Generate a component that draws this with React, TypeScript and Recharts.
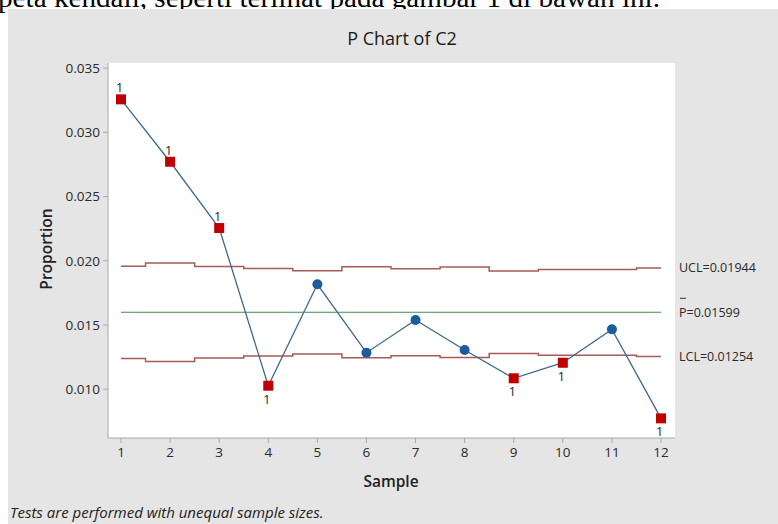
import React from 'react';
import { LineChart, Line, XAxis, YAxis, CartesianGrid, LabelList } from 'recharts';

const samples = [1, 2, 3, 4, 5, 6, 7, 8, 9, 10, 11, 12];
const proportions = [0.03257, 0.02771, 0.02255, 0.01027, 0.01817, 0.01284, 0.01539, 0.01305, 0.01085, 0.01206, 0.01466, 0.00773];
const uclValues = [0.01958, 0.01982, 0.01956, 0.01939, 0.01923, 0.01953, 0.01937, 0.01951, 0.0192, 0.01933, 0.01933, 0.01944];
const lclValues = [0.0124, 0.01216, 0.01242, 0.01259, 0.01275, 0.01245, 0.01261, 0.01247, 0.01278, 0.01265, 0.01265, 0.01254];
const centerLine = 0.01599;
const yTicks = [0.01, 0.015, 0.02, 0.025, 0.03, 0.035];
const xTicks = samples;

const title = 'P Chart of C2';
const xLabel = 'Sample';
const yLabel = 'Proportion';
const footnote = 'Tests are performed with unequal sample sizes.';
const docText = 'peta kendali, seperti terlihat pada gambar 1 di bawah ini.';

const data = samples.map((s, i) => ({
  sample: s,
  p: proportions[i],
  ucl: uclValues[i],
  lcl: lclValues[i],
  center: centerLine,
}));

const FONT = "'Open Sans', 'Noto Sans', sans-serif";
const xDomain: [number, number] = [0.735, 12.285];
const yDomain: [number, number] = [0.0062, 0.0354];
const LIMIT = '#a65a5a';
const FRAME = '#a8a8a8';

const PointDot = (props: any) => {
  const { cx, cy, payload, index } = props;
  if (cx == null || cy == null) return <g key={`d${index}`} />;
  const high = payload.p > payload.ucl;
  const low = payload.p < payload.lcl;
  if (high || low) {
    return (
      <g key={`d${index}`}>
        <rect x={cx - 5} y={cy - 5} width={10} height={10} fill="#c00000" stroke="none" />
        <text
          x={cx - 1.5}
          y={high ? cy - 7 : cy + 18}
          textAnchor="middle"
          fontSize={12.5}
          fontFamily={FONT}
          fill="#1a1a1a"
          stroke="none"
        >
          1
        </text>
      </g>
    );
  }
  return <circle key={`d${index}`} cx={cx} cy={cy} r={5} fill="#1b5c9c" stroke="none" />;
};

const endLabel = (text: string, bar?: boolean) => (props: any) => {
  const { x, y, index } = props;
  if (index !== samples.length - 1) return null;
  return (
    <g>
      {bar ? <line x1={x + 19} x2={x + 25} y1={y - 14} y2={y - 14} stroke="#333" strokeWidth={1} /> : null}
      <text x={x + 18} y={y + 4.5} fontSize={12.5} fontFamily={FONT} fill="#2a2a2a" stroke="none">
        {text}
      </text>
    </g>
  );
};

const tickStyle = { fontSize: 13.5, fill: '#2a2a2a', fontFamily: FONT, stroke: 'none' };

export default function App() {
  return (
    <div
      style={{
        position: 'absolute',
        left: 0,
        top: 0,
        width: 778,
        height: 524,
        background: '#fff',
        overflow: 'hidden',
      }}
    >
      <svg width={778} height={30} style={{ position: 'absolute', left: 0, top: 0 }}>
        <text x={-2} y={7} fontFamily="'Liberation Serif', 'DejaVu Serif', serif" fontSize={28} fill="#000" textLength={662} lengthAdjust="spacingAndGlyphs">
          {docText}
        </text>
      </svg>
      <div style={{ position: 'absolute', left: 8, top: 9, width: 770, height: 515, background: '#e5e5e5' }} />
      <div style={{ position: 'absolute', left: 0, top: 0 }}>
        <LineChart width={778} height={524} data={data} margin={{ top: 63, right: 103, bottom: 56, left: 48 }}>
          <CartesianGrid fill="#ffffff" horizontal={false} vertical={false} stroke="none" />
          <XAxis
            dataKey="sample"
            type="number"
            domain={xDomain}
            ticks={xTicks}
            allowDataOverflow
            height={30}
            tickSize={5}
            tickMargin={4}
            tick={tickStyle}
            axisLine={{ stroke: FRAME }}
            tickLine={{ stroke: FRAME }}
          />
          <XAxis
            xAxisId="top"
            orientation="top"
            type="number"
            domain={xDomain}
            allowDataOverflow
            height={0}
            tick={false}
            tickLine={false}
            axisLine={{ stroke: FRAME }}
          />
          <YAxis
            type="number"
            domain={yDomain}
            ticks={yTicks}
            allowDataOverflow
            width={60}
            tickSize={5}
            tickMargin={3}
            tickFormatter={(v: number) => v.toFixed(3)}
            tick={tickStyle}
            axisLine={{ stroke: FRAME }}
            tickLine={{ stroke: FRAME }}
          />
          <YAxis
            yAxisId="right"
            orientation="right"
            type="number"
            domain={yDomain}
            allowDataOverflow
            width={0}
            tick={false}
            tickLine={false}
            axisLine={{ stroke: FRAME }}
          />
          <Line dataKey="ucl" type="step" stroke={LIMIT} strokeWidth={1.5} dot={false} isAnimationActive={false}>
            <LabelList dataKey="ucl" content={endLabel(`UCL=${uclValues[uclValues.length - 1].toFixed(5)}`)} />
          </Line>
          <Line dataKey="lcl" type="step" stroke={LIMIT} strokeWidth={1.5} dot={false} isAnimationActive={false}>
            <LabelList dataKey="lcl" content={endLabel(`LCL=${lclValues[lclValues.length - 1].toFixed(5)}`)} />
          </Line>
          <Line dataKey="center" type="linear" stroke="#3d8f4f" strokeWidth={1.2} dot={false} isAnimationActive={false}>
            <LabelList dataKey="center" content={endLabel(`P=${centerLine.toFixed(5)}`, true)} />
          </Line>
          <Line
            dataKey="p"
            type="linear"
            stroke="#3f6a8c"
            strokeWidth={1.3}
            dot={PointDot}
            activeDot={false}
            isAnimationActive={false}
          />
        </LineChart>
      </div>
      <svg width={778} height={524} style={{ position: 'absolute', left: 0, top: 0, pointerEvents: 'none' }}>
        <text x={402} y={45} textAnchor="middle" fontFamily={FONT} fontSize={18} fill="#1a1a1a">
          {title}
        </text>
        <text x={391} y={487} textAnchor="middle" fontFamily={FONT} fontSize={15.5} fontWeight={600} fill="#222">
          {xLabel}
        </text>
        <text
          x={0}
          y={0}
          transform="translate(52,249) rotate(-90)"
          textAnchor="middle"
          fontFamily={FONT}
          fontSize={15.5}
          fontWeight={600}
          fill="#222"
        >
          {yLabel}
        </text>
        <text x={10} y={518} fontFamily={FONT} fontSize={15} fontStyle="italic" fill="#222">
          {footnote}
        </text>
      </svg>
    </div>
  );
}
